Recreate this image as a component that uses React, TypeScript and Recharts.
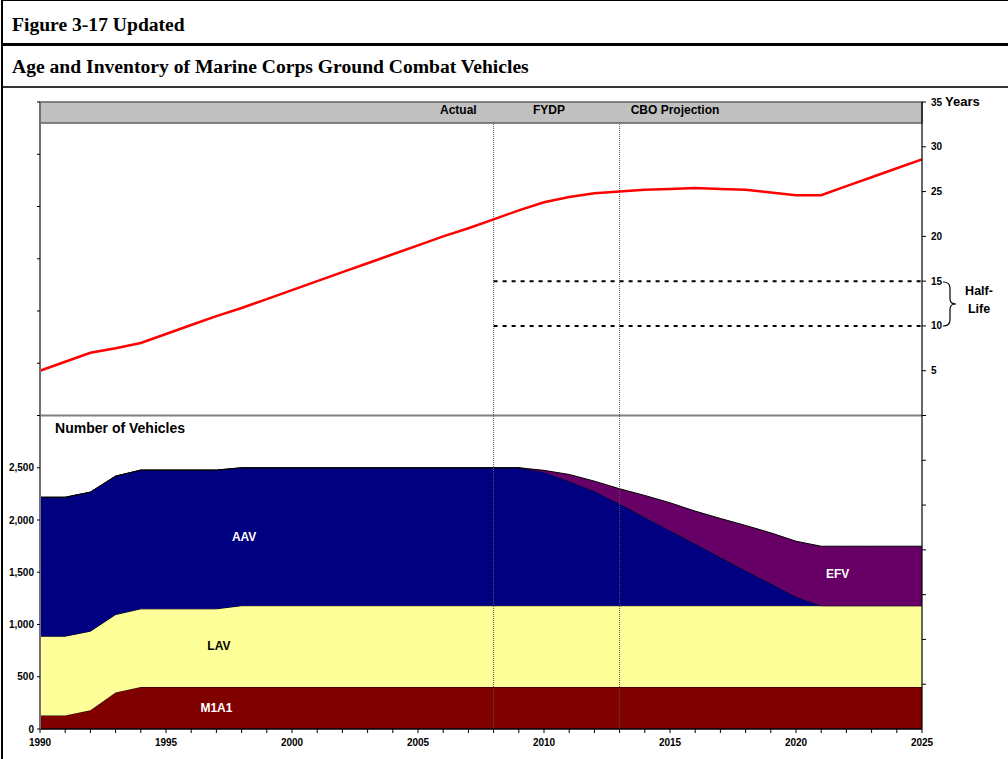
import {
  Area,
  ComposedChart,
  Line,
  ReferenceArea,
  ReferenceDot,
  ReferenceLine,
  XAxis,
  YAxis,
} from 'recharts'

const FONT = '"Liberation Sans", Arial, sans-serif'
const SERIF = '"Liberation Serif", "Times New Roman", serif'

// one row per year, 1990-2025
const years = [
  1990, 1991, 1992, 1993, 1994, 1995, 1996, 1997, 1998, 1999, 2000, 2001,
  2002, 2003, 2004, 2005, 2006, 2007, 2008, 2009, 2010, 2011, 2012, 2013,
  2014, 2015, 2016, 2017, 2018, 2019, 2020, 2021, 2022, 2023, 2024, 2025,
]

// average age of the fleet, years
const avgAge = [
  5.0, 6.0, 7.0, 7.5, 8.1, 9.1, 10.1, 11.1, 12.0, 13.0, 14.0, 15.0,
  16.0, 17.0, 18.0, 19.0, 20.0, 20.9, 21.9, 22.9, 23.8, 24.4, 24.8, 25.0,
  25.2, 25.3, 25.4, 25.3, 25.2, 24.9, 24.6, 24.6, 25.6, 26.6, 27.6, 28.6,
]

// inventory, number of vehicles (stacked bottom to top)
const m1a1 = [
  130, 130, 180, 350, 403, 403, 403, 403, 403, 403, 403, 403,
  403, 403, 403, 403, 403, 403, 403, 403, 403, 403, 403, 403,
  403, 403, 403, 403, 403, 403, 403, 403, 403, 403, 403, 403,
]
const lav = [
  758, 758, 756, 745, 747, 747, 747, 747, 777, 777, 777, 777,
  777, 777, 777, 777, 777, 777, 777, 777, 777, 777, 777, 777,
  777, 777, 777, 777, 777, 777, 777, 777, 777, 777, 777, 777,
]
const aav = [
  1330, 1330, 1331, 1325, 1328, 1328, 1328, 1328, 1320, 1320, 1320, 1320,
  1320, 1320, 1320, 1320, 1320, 1320, 1320, 1320, 1278, 1192, 1096, 976,
  847, 720, 592, 464, 336, 212, 85, 0, 0, 0, 0, 0,
]
const efv = [
  0, 0, 0, 0, 0, 0, 0, 0, 0, 0, 0, 0,
  0, 0, 0, 0, 0, 0, 0, 0, 17, 64, 96, 143,
  208, 265, 313, 371, 432, 485, 532, 569, 569, 569, 569, 569,
]

const vehicleTicks = [0, 500, 1000, 1500, 2000, 2500, 3000, 3500, 4000, 4500, 5000, 5500, 6000]
const ageTicks = [-30, -25, -20, -15, -10, -5, 0, 5, 10, 15, 20, 25, 30, 35]
const phaseBreaks = [2008, 2013]
const halfLife = [10, 15]

const data = years.map((year, i) => ({
  year,
  age: avgAge[i],
  m1a1: m1a1[i],
  lav: lav[i],
  aav: aav[i],
  efv: efv[i],
}))

const tickStyle = { fontSize: 10, fontWeight: 'bold', fill: '#000', fontFamily: FONT }
const lbl = (value: string, fill: string, fontSize = 12, position = 'center') => ({
  value,
  position,
  offset: 0,
  fill,
  fontSize,
  fontWeight: 'bold',
  fontFamily: FONT,
})

export default function App() {
  return (
    <div style={{ position: 'absolute', left: 0, top: 0, width: 1008, height: 759, background: '#fff' }}>
      <div style={{ position: 'absolute', left: 1, top: 0, width: 1007, height: 759, borderLeft: '2px solid #000', borderTop: '1px solid #000' }} />
      <div style={{ position: 'absolute', left: 12, top: 15, fontFamily: SERIF, fontWeight: 'bold', fontSize: 19.6, lineHeight: '20px' }}>
        Figure 3-17 Updated
      </div>
      <div style={{ position: 'absolute', left: 3, top: 43, width: 1005, height: 3, background: '#000' }} />
      <div style={{ position: 'absolute', left: 12, top: 57, fontFamily: SERIF, fontWeight: 'bold', fontSize: 19.6, lineHeight: '20px' }}>
        Age and Inventory of Marine Corps Ground Combat Vehicles
      </div>
      <div style={{ position: 'absolute', left: 3, top: 86, width: 1005, height: 2, background: '#333' }} />

      <div style={{ position: 'absolute', left: 0, top: 0 }}>
        <ComposedChart width={1008} height={759} data={data} margin={{ top: 102, right: 46, bottom: 0, left: 0 }}>
          <XAxis
            dataKey="year"
            type="number"
            domain={[1990, 2025]}
            ticks={years}
            interval={0}
            tickFormatter={(v: number) => (v % 5 === 0 ? String(v) : '')}
            tick={tickStyle}
            tickSize={4}
            tickMargin={6}
            axisLine={{ stroke: '#000', strokeWidth: 1.5 }}
            tickLine={{ stroke: '#000' }}
            height={30}
          />
          <YAxis
            yAxisId="left"
            orientation="left"
            domain={[0, 6000]}
            ticks={vehicleTicks}
            interval={0}
            tickFormatter={(v: number) => (v <= 2500 ? v.toLocaleString('en-US') : '')}
            tick={tickStyle}
            tickSize={3}
            tickMargin={3}
            axisLine={{ stroke: '#707070', strokeWidth: 2 }}
            tickLine={{ stroke: '#000' }}
            width={40}
          />
          <YAxis
            yAxisId="right"
            orientation="right"
            domain={[-35, 35]}
            ticks={ageTicks}
            interval={0}
            tickFormatter={(v: number) => (v > 0 ? String(v) : '')}
            tick={tickStyle}
            tickSize={4}
            tickMargin={5}
            axisLine={{ stroke: '#000', strokeWidth: 1.2 }}
            tickLine={{ stroke: '#000' }}
            width={40}
          />

          <Area yAxisId="left" type="linear" dataKey="m1a1" stackId="v" fill="#800000" fillOpacity={1} stroke="#000" strokeWidth={1} dot={false} activeDot={false} isAnimationActive={false} />
          <Area yAxisId="left" type="linear" dataKey="lav" stackId="v" fill="#FFFF99" fillOpacity={1} stroke="#000" strokeWidth={1} dot={false} activeDot={false} isAnimationActive={false} />
          <Area yAxisId="left" type="linear" dataKey="aav" stackId="v" fill="#000080" fillOpacity={1} stroke="#000" strokeWidth={1} dot={false} activeDot={false} isAnimationActive={false} />
          <Area yAxisId="left" type="linear" dataKey="efv" stackId="v" fill="#660066" fillOpacity={1} stroke="#000" strokeWidth={1} dot={false} activeDot={false} isAnimationActive={false} />

          <ReferenceLine yAxisId="left" y={3000} stroke="#808080" strokeWidth={2} />
          {phaseBreaks.map((yr) => (
            <ReferenceLine
              key={yr}
              yAxisId="left"
              segment={[{ x: yr, y: 0 }, { x: yr, y: 5800 }]}
              stroke="#555"
              strokeWidth={1}
              strokeDasharray="1 1"
            />
          ))}
          {halfLife.map((h) => (
            <ReferenceLine
              key={h}
              yAxisId="right"
              segment={[{ x: 2008, y: h }, { x: 2025, y: h }]}
              stroke="#000"
              strokeWidth={2}
              strokeDasharray="4 5"
            />
          ))}
          <ReferenceArea yAxisId="left" x1={1990} x2={2025} y1={5800} y2={6000} fill="#C0C0C0" fillOpacity={1} stroke="#606060" strokeWidth={1.5} />

          <Line yAxisId="right" type="linear" dataKey="age" stroke="#FF0000" strokeWidth={2.5} dot={false} activeDot={false} isAnimationActive={false} />

          <ReferenceDot yAxisId="left" x={2006.6} y={5925} r={0} fill="none" stroke="none" label={lbl('Actual', '#000')} />
          <ReferenceDot yAxisId="left" x={2010.2} y={5925} r={0} fill="none" stroke="none" label={lbl('FYDP', '#000')} />
          <ReferenceDot yAxisId="left" x={2015.2} y={5925} r={0} fill="none" stroke="none" label={lbl('CBO Projection', '#000')} />
          <ReferenceDot yAxisId="left" x={1990.6} y={2880} r={0} fill="none" stroke="none" label={lbl('Number of Vehicles', '#000', 14, 'right')} />
          <ReferenceDot yAxisId="left" x={1998.1} y={1840} r={0} fill="none" stroke="none" label={lbl('AAV', '#fff')} />
          <ReferenceDot yAxisId="left" x={1997.1} y={801} r={0} fill="none" stroke="none" label={lbl('LAV', '#000')} />
          <ReferenceDot yAxisId="left" x={1997.0} y={201} r={0} fill="none" stroke="none" label={lbl('M1A1', '#fff')} />
          <ReferenceDot yAxisId="left" x={2021.65} y={1490} r={0} fill="none" stroke="none" label={lbl('EFV', '#fff')} />
        </ComposedChart>
      </div>

      <svg width={1008} height={759} style={{ position: 'absolute', left: 0, top: 0, pointerEvents: 'none' }}>
        <text x={945} y={101} dominantBaseline="central" fontFamily={FONT} fontWeight="bold" fontSize={13}>
          Years
        </text>
        <path
          d="M 943 282 Q 950 282 950 288 L 950 299 Q 950 304 956 304 Q 950 304 950 309 L 950 320 Q 950 326 943 326"
          fill="none"
          stroke="#000"
          strokeWidth={1.2}
        />
        <text x={979} y={291} textAnchor="middle" dominantBaseline="central" fontFamily={FONT} fontWeight="bold" fontSize={12.5}>
          Half-
        </text>
        <text x={979} y={309} textAnchor="middle" dominantBaseline="central" fontFamily={FONT} fontWeight="bold" fontSize={12.5}>
          Life
        </text>
      </svg>
    </div>
  )
}
